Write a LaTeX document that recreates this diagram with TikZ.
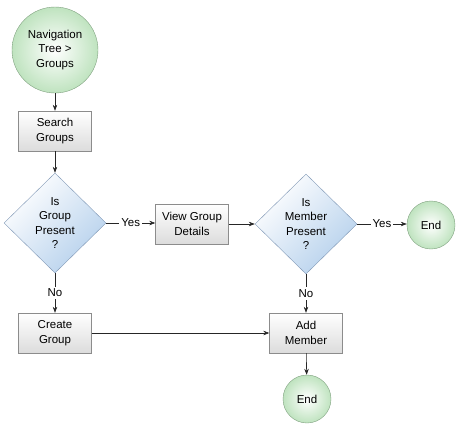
\documentclass[tikz,border=0pt]{standalone}
\usepackage{fontspec}
\setmainfont{Liberation Sans}
\usepackage{xcolor}
\usetikzlibrary{shapes.geometric}
\usetikzlibrary{arrows.meta}
\definecolor{termfill}{HTML}{BFE3BF}
\definecolor{termline}{HTML}{7FA07F}
\definecolor{procfill}{HTML}{DCDCDC}
\definecolor{procline}{HTML}{8C8C8C}
\definecolor{decfill}{HTML}{B5D0EC}
\definecolor{decline}{HTML}{7F97B5}

\begin{document}
\begin{tikzpicture}[
x=1pt, y=-1pt,
font=\fontsize{11.5}{14.5}\selectfont,
term/.style={circle, draw=termline, inner color=white, outer color=termfill, align=center, inner sep=0pt},
proc/.style={rectangle, draw=procline, top color=white, bottom color=procfill, minimum width=73pt, minimum height=40pt, align=center, inner sep=0pt},
decide/.style={diamond, draw=decline, top color=white, bottom color=decfill, shading angle=45, minimum width=102pt, minimum height=100pt, align=center, inner sep=0pt},
flow/.style={draw=black!85, line width=0.6pt, -{Stealth[length=6pt,width=4.5pt]}},
lbl/.style={fill=white, inner sep=2pt}]
\useasboundingbox (0,0) rectangle (458,426);
\node[term, minimum size=86pt] (nav) at (55,50) {Navigation\\Tree >\\Groups};
\node[proc] (search) at (55,131) {Search\\Groups};
\node[decide] (grp) at (55,223) {Is\\Group\\Present\\?};
\node[proc] (view) at (192,224) {View Group\\Details};
\node[decide] (mem) at (306,224) {Is\\Member\\Present\\?};
\node[term, minimum size=48pt] (endy) at (431,225) {End};
\node[proc] (create) at (55,333) {Create\\Group};
\node[proc] (add) at (306,333) {Add\\Member};
\node[term, minimum size=48pt] (endn) at (307,399) {End};
\draw[flow] (nav) -- (search);
\draw[flow] (search) -- (grp);
\draw[flow] (grp.east) -- node[lbl] {Yes} (view.west |- grp.east);
\draw[flow] (view) -- (mem);
\draw[flow] (mem.east) -- node[lbl] {Yes} (endy.west |- mem.east);
\draw[flow] (grp.south) -- node[lbl] {No} (create);
\draw[flow] (mem.south) -- node[lbl] {No} (add);
\draw[flow] (create) -- (add);
\draw[flow] (add) -- (endn);
\end{tikzpicture}
\end{document}
